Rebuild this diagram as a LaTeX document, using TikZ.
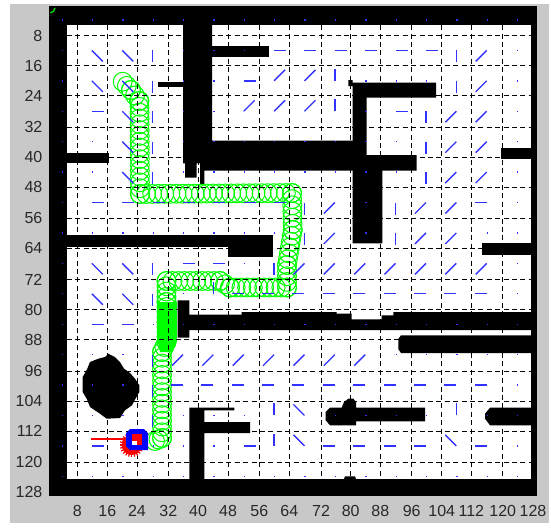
\documentclass[tikz,border=0pt]{standalone}
\usepackage{fontspec}
\setmainfont{Liberation Sans}
\usetikzlibrary{calc}
\definecolor{panelgray}{RGB}{200,200,200}
\definecolor{vecblue}{RGB}{50,50,255}
\definecolor{pathgreen}{RGB}{0,255,0}
\definecolor{labelink}{RGB}{40,40,40}
\tikzset{
  wall/.style={fill=black,draw=none},
  gridline/.style={black,line width=1pt,dash pattern=on 5pt off 3.4pt},
  vec/.style={vecblue,line width=1.35pt},
  trail/.style={pathgreen,line width=1pt},
  ticklabel/.style={font=\fontsize{16}{16}\selectfont,text=labelink,inner sep=0pt},
}
\newcommand{\trailseg}[5]{%
  \foreach \t in {0,...,#5}{%
    \draw[trail] ($(#1,#2)!{\t/#5}!(#3,#4)$) circle[radius=9.4];
  }%
}
\def\dxR{12}\def\dyR{0}
\def\dxL{-12}\def\dyL{0}
\def\dxU{0}\def\dyU{-12}
\def\dxD{0}\def\dyD{12}
\def\dxE{11}\def\dyE{-11}
\def\dxF{-11}\def\dyF{11}
\def\dxG{11}\def\dyG{11}
\def\dxH{-11}\def\dyH{-11}
\def\dxo{1.3}\def\dyo{0}
\begin{document}
\begin{tikzpicture}[x=1pt,y=-1pt]
\useasboundingbox (0,0) rectangle (551,527);
\fill[panelgray] (10,4) rectangle (549,523);
\fill[black] (48.5,6.5) rectangle (536.5,495.5);
\fill[white] (66.7,25.3) rectangle (530.7,478.7);
% walls
\fill[wall] (183,25) -- (212,25) -- (212,140.7) -- (353,140.7) -- (353,170.7) -- (204.3,170.7) -- (204.3,185) -- (200,185) -- (200,163.3) -- (196.7,163.3) -- (196.7,177.7) -- (185,177.7) -- (185,163.3) -- (183,163.3) -- cycle;
\fill[wall] (212,45.7) rectangle (268.7,56.7);
\fill[wall] (157.7,82) rectangle (183,86.7);
\fill[wall] (66,152.7) rectangle (109.3,163.3);
\fill[wall] (66,235) rectangle (273.3,246.7);
\fill[wall] (227.7,235) rectangle (273.3,257.3);
\fill[wall] (348.3,80) -- (352.7,80) -- (352.7,82.7) -- (436,82.7) -- (436,97.7) -- (366.7,97.7) -- (366.7,155) -- (416.7,155) -- (416.7,170.7) -- (382.3,170.7) -- (382.3,243.3) -- (352.7,243.3) -- (352.7,86) -- (348.3,86) -- cycle;
\fill[wall] (500.7,148.3) rectangle (531,159.3);
\fill[wall] (482.3,243.3) rectangle (531,255);
% long bar with T head
\fill[wall] (177.7,300.3) -- (189.3,300.3) -- (189.3,314.7) -- (241.7,314.7) -- (241.7,312) -- (336.7,312) -- (336.7,313.7) -- (351.7,313.7) -- (351.7,319.3) -- (381.7,319.3) -- (381.7,315.3) -- (393.3,315.3) -- (393.3,312) -- (531,312) -- (531,330) -- (189.3,330) -- (189.3,337.7) -- (177.7,337.7) -- cycle;
\fill[wall] (401,335.3) -- (531,335.3) -- (531,353) -- (401,353) -- (398.3,349) -- (398.3,339) -- cycle;
% blob
\fill[wall] (108.3,353.7) -- (115,357) -- (120,362) -- (124,368.7) -- (130,373) -- (135,378.7) -- (139.3,385.3) -- (139.3,392) -- (135.5,398.7) -- (132,405.3) -- (125,410.3) -- (120,418) -- (106.7,418.7) -- (100,413.7) -- (90,407) -- (86.7,398.7) -- (82.7,392) -- (82.7,377) -- (87.3,368.7) -- (90,362) -- (98.3,358.7) -- (105,357) -- cycle;
% lower T
\fill[wall] (189.3,407.7) -- (234.3,407.7) -- (234.3,410.3) -- (204.3,410.3) -- (204.3,422) -- (250,422) -- (250,433) -- (204.3,433) -- (204.3,479) -- (189.3,479) -- cycle;
% bar with knob
\fill[wall] (325.7,412) -- (330,407.7) -- (341.7,407.7) -- (344,402) -- (348.3,398.7) -- (353.3,398.7) -- (356,402) -- (356,407.7) -- (425,407.7) -- (425,421.3) -- (356,421.3) -- (356,425.3) -- (330,425.3) -- (325.7,420.3) -- cycle;
\fill[wall] (485,413.7) -- (490,407.7) -- (531,407.7) -- (531,425.3) -- (490,425.3) -- (485,418.7) -- cycle;
\fill[wall] (344,479) -- (345,476.3) -- (355,476.3) -- (356,479) -- cycle;
% path trail
\trailseg{122.7}{81.7}{131}{90}{2}
\trailseg{131}{90}{139}{101}{2}
\trailseg{139.5}{101}{140}{194}{16}
\trailseg{140}{194}{292}{193}{25}
\trailseg{292}{193}{292.7}{230}{6}
\trailseg{292.7}{230}{287}{265}{6}
\trailseg{287}{265}{287}{287.5}{4}
\trailseg{287}{287.5}{230}{287.5}{10}
\trailseg{230}{287.5}{220}{281}{2}
\trailseg{220}{281}{166.5}{281}{9}
\trailseg{166.5}{281}{166.5}{302}{4}
\fill[pathgreen] (156.7,302) rectangle (176.7,342);
\trailseg{166.5}{302}{166.5}{342}{8}
\fill[pathgreen] (158,342) -- (176.5,342) -- (172,352) -- (160,352) -- cycle;
\trailseg{166.5}{342}{162}{352}{2}
\trailseg{162}{352}{162}{438}{15}
\trailseg{162}{438}{155}{441}{2}
% grid
\foreach \gx in {77.3,107.3,137,168.3,198,228,259.3,289.3,321,350.7,380.3,411.7,441.7,471.3,502.7}
  \draw[gridline] (\gx,25.3) -- (\gx,478.7);
\foreach \gy in {35.7,65.7,95.7,127,157,187,218.3,248.3,279.7,309.7,339.7,371,401,431,462.3}
  \draw[gridline] (66.7,\gy) -- (530.7,\gy);
% vector field
\foreach \row [count=\r from 0] in {
 {o,o,o,o,o,o,o,o,o,o,o,o,o,o,o,o},
 {o,G,G,D,o,o,o,R,R,R,R,R,R,D,F,o},
 {o,G,G,D,o,o,R,E,E,U,o,o,o,D,F,o},
 {o,R,G,D,o,o,E,E,E,U,o,R,D,F,F,o},
 {o,o,G,D,o,o,o,o,o,o,o,o,D,F,F,o},
 {o,o,G,D,o,o,o,o,o,o,o,o,D,F,F,o},
 {o,R,R,R,R,R,R,R,D,F,o,D,F,F,L,o},
 {o,o,o,o,o,o,o,o,D,F,o,D,F,F,o,o},
 {o,G,G,D,R,R,o,D,F,F,F,F,F,F,F,o},
 {o,G,G,D,o,U,L,L,L,L,L,L,L,L,L,o},
 {o,R,R,o,o,o,o,o,o,o,o,o,o,o,o,o},
 {o,o,o,D,F,F,F,F,F,F,F,o,o,o,o,o},
 {o,o,o,D,L,L,L,L,L,L,L,L,L,L,L,o},
 {o,o,o,D,o,o,o,U,H,o,o,o,o,U,o,o},
 {o,R,o,o,o,o,R,U,H,L,L,L,L,H,L,o},
 {o,o,o,o,o,o,o,o,o,o,o,o,o,o,o,o}}{
  \foreach \d [count=\c from 0] in \row {
    \pgfmathsetmacro{\vx}{61.5+30.37*\c}
    \pgfmathsetmacro{\vy}{20+30.42*\r}
    \draw[vec] (\vx,\vy) -- ++(\csname dx\d\endcsname,\csname dy\d\endcsname);
  }
}
% start mark
\draw[pathgreen!85!black,line width=1.4pt] (50.5,13) .. controls (53,12.5) and (54.5,10.5) .. (55,8);
% robot
\foreach \a in {0,15,...,345}
  \draw[red,line width=1.2pt] (131.7,445) -- ++(\a:12);
\fill[red] (131.7,445) circle[radius=10];
\draw[red,line width=1.5pt] (91,439.2) -- (128,439.2);
\fill[blue] (130,429) -- (144,429) -- (148,433) -- (148,450) -- (130,450) -- (126,446) -- (126,433) -- cycle;
\fill[red] (131.7,434) rectangle (141.7,444.5);
\fill[white] (132,441) rectangle (136.5,445);
% axis labels
\foreach \v/\py in {8/35.7,16/65.7,24/95.7,32/127,40/157,48/187,56/218.3,64/248.3,72/279.7,80/309.7,88/339.7,96/371,104/401,112/431,120/462.3,128/492}
  \node[ticklabel,anchor=east] (yl\v) at (42.5,\py) {\v};
\foreach \v/\px in {8/77.3,16/107.3,24/137,32/168.3,40/198,48/228,56/259.3,64/289.3,72/321,80/350.7,88/380.3,96/411.7,104/441.7,112/471.3,120/502.7,128/533}
  \node[ticklabel] (xl\v) at (\px,510.5) {\v};
\end{tikzpicture}
\end{document}
